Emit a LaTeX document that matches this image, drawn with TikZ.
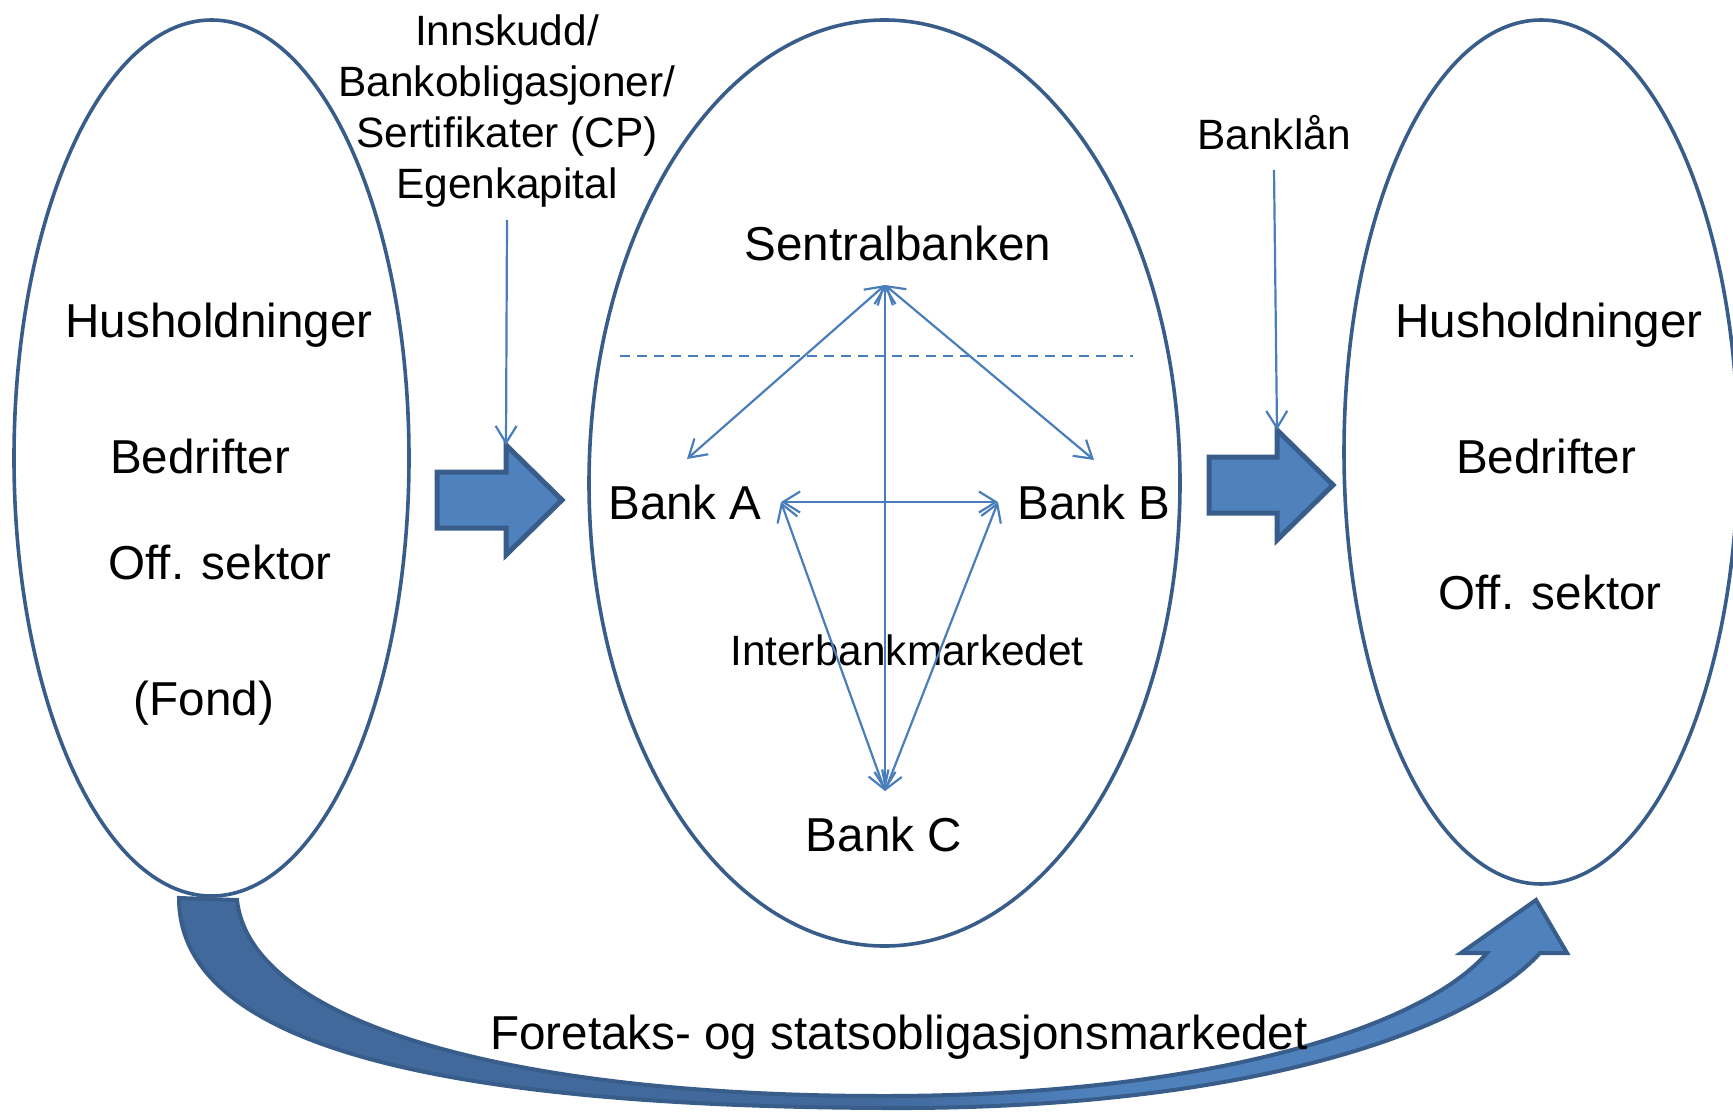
\documentclass[tikz,border=0pt]{standalone}
\usepackage{fontspec}
\setmainfont{Liberation Sans}
\usetikzlibrary{arrows.meta}
\definecolor{eline}{HTML}{385D8A}
\definecolor{lblue}{HTML}{4A7EBB}
\definecolor{afill}{HTML}{4F81BD}
\definecolor{bdark}{HTML}{41699C}
\pgfdeclarehorizontalshading{bandshade}{100bp}{color(0bp)=(bdark); color(50bp)=(bdark); color(58bp)=(afill); color(100bp)=(afill)}
\begin{document}
\begin{tikzpicture}[x=0.5pt, y=-0.5pt,
  big/.style={font=\fontsize{23.8pt}{28.6pt}\selectfont, inner sep=0pt, anchor=base},
  small/.style={font=\fontsize{21.2pt}{25.6pt}\selectfont, inner sep=0pt, align=center},
  oval/.style={draw=eline, line width=1.8pt},
  blockarrow/.style={fill=afill, draw=eline, line width=2.5pt, line join=miter},
  link/.style={draw=lblue, line width=1.1pt, {Straight Barb[length=8.5pt,width=10.5pt]}-{Straight Barb[length=8.5pt,width=10.5pt]}},
  feed/.style={draw=lblue, line width=1.1pt, -{Straight Barb[length=8.5pt,width=10.5pt]}},
  dashline/.style={draw=lblue, line width=1.1pt, dash pattern=on 5pt off 3.5pt}
]
\useasboundingbox (0,0) rectangle (1733,1112);

% curved arrow (bond market)
\path[shade, shading=bandshade, draw=eline, line width=2pt, line join=miter]
  (179,898) .. controls (179,1040) and (420,1106) .. (884,1108)
  .. controls (1250,1110) and (1470,1030) .. (1540,953)
  -- (1567,953) -- (1536,900) -- (1461,953) -- (1487,953)
  .. controls (1420,1030) and (1200,1096) .. (884,1096)
  .. controls (500,1096) and (250,1020) .. (237,900)
  -- cycle;

% ellipses
\draw[oval] (211.5,458) ellipse [x radius=197.5, y radius=438];
\draw[oval] (884.5,483) ellipse [x radius=295.5, y radius=463];
\draw[oval] (1541,452) ellipse [x radius=197, y radius=432];

% block arrows
\draw[blockarrow] (437,472) -- (506,472) -- (506,445) -- (562,500) -- (506,555) -- (506,528) -- (437,528) -- cycle;
\draw[blockarrow] (1209,457) -- (1277,457) -- (1277,430) -- (1333,485) -- (1277,540) -- (1277,513) -- (1209,513) -- cycle;
\coordinate (lh) at (506,445);
\coordinate (rh) at (1277,430);

% left ellipse texts
\node[big] (lhus) at (219,337) {Husholdninger};
\node[big] (lbed) at (200,473) {Bedrifter};
\node[big] (loff) at (220,579) {Off. sektor};
\node[big] (lfond) at (204,715) {(Fond)};

% right ellipse texts
\node[big] (rhus) at (1549,337) {Husholdninger};
\node[big] (rbed) at (1546,473) {Bedrifter};
\node[big] (roff) at (1550,609) {Off. sektor};

% middle
\node[big] (cb) at (898,261) {Sentralbanken};
\node[big] (bA) at (685,519) {Bank A};
\node[big] (bB) at (1094,519) {Bank B};
\node[big] (bC) at (884,851) {Bank C};
\node[small, anchor=base] (ibm) at (907,665) {Interbankmarkedet};

% top labels
\node[small, anchor=north] (top) at (507,14) {Innskudd/\\Bankobligasjoner/\\Sertifikater (CP)\\Egenkapital};
\node[small, anchor=base] (banklan) at (1274,150) {Banklån};

% bottom label
\node[big] (fsm) at (899,1049) {Foretaks- og statsobligasjonsmarkedet};

% connectors
\coordinate (cbp) at (885,285);
\coordinate (ap) at (687,459);
\coordinate (bp) at (1094,460);
\coordinate (cp) at (885,791);
\coordinate (ah) at (781,502);
\coordinate (bh) at (998,502);
\coordinate (dl) at (620,356);
\coordinate (dr) at (1133,356);

\draw[dashline] (dl) -- (dr);
\draw[link] (cbp) -- (ap);
\draw[link] (cbp) -- (bp);
\draw[link] (cbp) -- (cp);
\draw[link] (ah) -- (bh);
\draw[link] (ah) -- (cp);
\draw[link] (bh) -- (cp);

\draw[feed] ([yshift=-6pt]top.south) -- (lh);
\draw[feed] ([yshift=-9.5pt]banklan.south) -- (rh);
\end{tikzpicture}
\end{document}
